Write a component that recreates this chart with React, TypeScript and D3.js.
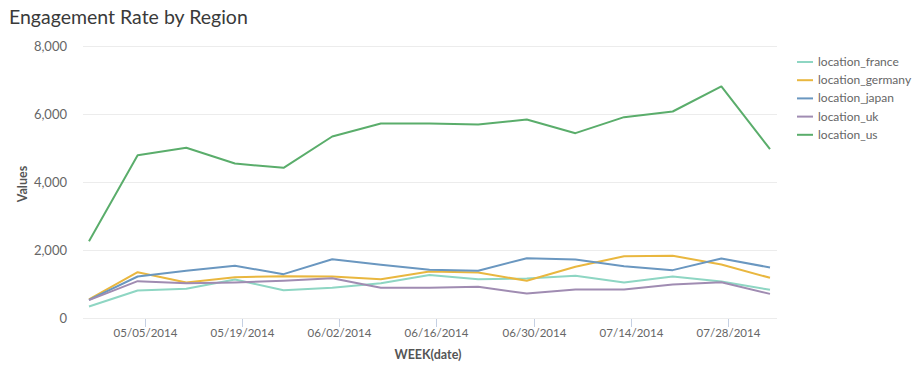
import React from "react";
import * as d3 from "d3";

const weeks = [
  "2014-04-27", "2014-05-04", "2014-05-11", "2014-05-18", "2014-05-25",
  "2014-06-01", "2014-06-08", "2014-06-15", "2014-06-22", "2014-06-29",
  "2014-07-06", "2014-07-13", "2014-07-20", "2014-07-27", "2014-08-03",
];
const tickDates = ["2014-05-05", "2014-05-19", "2014-06-02", "2014-06-16", "2014-06-30", "2014-07-14", "2014-07-28"];
const yTicks = [0, 2000, 4000, 6000, 8000];

const seriesNames = ["location_france", "location_germany", "location_japan", "location_uk", "location_us"];
const france = [353, 824, 872, 1147, 833, 902, 1039, 1280, 1157, 1176, 1255, 1059, 1235, 1088, 843];
const germany = [559, 1363, 1059, 1216, 1245, 1235, 1157, 1382, 1353, 1108, 1520, 1833, 1843, 1588, 1196];
const japan = [550, 1235, 1402, 1549, 1304, 1745, 1578, 1431, 1402, 1774, 1735, 1539, 1422, 1765, 1500];
const uk = [540, 1098, 1039, 1059, 1108, 1186, 902, 902, 931, 735, 853, 853, 1000, 1069, 725];
const us = [2275, 4804, 5020, 4559, 4431, 5353, 5735, 5735, 5706, 5853, 5451, 5922, 6088, 6824, 4980];
const colors = ["#8ed6c3", "#e9b73f", "#6a97c0", "#a08cb2", "#5aad6b"];

const parse = d3.utcParse("%Y-%m-%d");
const fmtTick = d3.utcFormat("%m/%d/%Y");

export default function App() {
  const W = 922, H = 377;
  const plotL = 83, plotR = 777;
  const x = d3.scaleUtc()
    .domain([parse(weeks[0])!, parse(weeks[weeks.length - 1])!])
    .range([89, 770]);
  const y = d3.scaleLinear().domain([0, 8000]).range([318.5, 46.5]);
  const data = [france, germany, japan, uk, us];
  const line = d3.line<number>()
    .x((_, i) => x(parse(weeks[i])!))
    .y((v) => y(v));
  const font = "Lato, 'Open Sans', sans-serif";
  return (
    <svg width={W} height={H} style={{ position: "absolute", left: 0, top: 0, fontFamily: font }}>
      <rect width={W} height={H} fill="#fff" />
      <text x={9} y={24} fontSize={19.5} fill="#3a3a3a">Engagement Rate by Region</text>
      {yTicks.map((t) => (
        <g key={t}>
          <line x1={plotL} x2={plotR} y1={y(t)} y2={y(t)} stroke="#ececec" strokeWidth={1} />
          <text x={67} y={y(t) + 4.5} textAnchor="end" fontSize={13} fill="#666">{d3.format(",")(t)}</text>
        </g>
      ))}
      {tickDates.map((d) => {
        const xx = Math.round(x(parse(d)!)) + 0.5;
        return (
          <g key={d}>
            <line x1={xx} x2={xx} y1={319} y2={327} stroke="#c5d0e3" strokeWidth={1} />
            <text x={xx} y={337} textAnchor="middle" fontSize={11.5} fill="#666">{fmtTick(parse(d)!)}</text>
          </g>
        );
      })}
      <text transform="translate(27,184) rotate(-90)" textAnchor="middle" fontSize={12.5} fontWeight="bold" fill="#555">Values</text>
      <text x={428} y={359} textAnchor="middle" fontSize={12.5} fontWeight="bold" fill="#555">WEEK(date)</text>
      {data.map((s, i) => (
        <path key={i} d={line(s)!} fill="none" stroke={colors[i]} strokeWidth={2} strokeLinejoin="round" />
      ))}
      {seriesNames.map((n, i) => (
        <g key={n} transform={`translate(0,${62 + i * 18.2})`}>
          <line x1={797} x2={813} y1={0} y2={0} stroke={colors[i]} strokeWidth={2} />
          <text x={818} y={4} fontSize={12} fill="#666">{n}</text>
        </g>
      ))}
    </svg>
  );
}
